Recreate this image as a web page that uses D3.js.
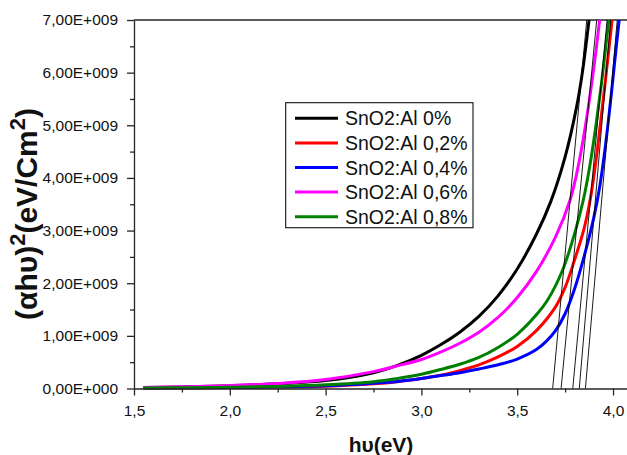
<!DOCTYPE html>
<html>
<head>
<meta charset="utf-8">
<script src="https://cdn.jsdelivr.net/npm/d3@7"></script>
<style>
  html, body { margin: 0; padding: 0; background: #fff; }
  svg { display: block; font-family: "Liberation Sans", Arial, sans-serif; }
</style>
</head>
<body>
<svg id="chart" width="627" height="455"></svg>
<script>
// ---------------- DATA ----------------
const seriesNames = ["SnO2:Al 0%", "SnO2:Al 0,2%", "SnO2:Al 0,4%", "SnO2:Al 0,6%", "SnO2:Al 0,8%"];
const seriesColors = ["#000000", "#ff0000", "#0000ff", "#ff00ff", "#008000"];

// photon energy hv (eV) and (alpha h v)^2 in units of 1e9 eV/cm^2
const al0 = [[1.55,0.02],[1.75,0.03],[2.00,0.05],[2.25,0.09],[2.50,0.15],[2.75,0.30],[2.875,0.44],[3.00,0.63],[3.10,0.83],[3.20,1.07],[3.30,1.37],[3.40,1.76],[3.50,2.27],[3.60,2.93],[3.675,3.55],[3.75,4.40],[3.81,5.35],[3.84,6.00],[3.87,6.85],[3.90,7.80]];
const al02 = [[1.55,0.01],[1.75,0.012],[2.00,0.018],[2.25,0.028],[2.50,0.045],[2.75,0.09],[2.875,0.13],[3.00,0.19],[3.10,0.25],[3.20,0.34],[3.30,0.45],[3.40,0.60],[3.50,0.80],[3.60,1.10],[3.70,1.55],[3.75,1.92],[3.80,2.45],[3.85,3.05],[3.884,3.65],[3.91,4.30],[3.935,5.05],[3.965,6.00],[3.995,7.00],[4.02,7.80]];
const al04 = [[1.55,0.01],[1.75,0.015],[2.00,0.02],[2.25,0.03],[2.50,0.05],[2.75,0.10],[2.875,0.135],[3.00,0.19],[3.10,0.245],[3.20,0.30],[3.30,0.37],[3.40,0.45],[3.50,0.56],[3.60,0.74],[3.65,0.89],[3.70,1.10],[3.75,1.42],[3.80,1.90],[3.85,2.52],[3.90,3.25],[3.93,3.82],[3.96,4.60],[3.99,5.55],[4.01,6.25],[4.035,7.10]];
const al06 = [[1.55,0.02],[1.75,0.035],[2.00,0.055],[2.25,0.095],[2.50,0.17],[2.75,0.32],[2.875,0.43],[3.00,0.55],[3.10,0.69],[3.20,0.86],[3.30,1.07],[3.40,1.35],[3.50,1.73],[3.60,2.22],[3.70,2.88],[3.776,3.58],[3.82,4.25],[3.863,5.15],[3.90,6.10],[3.93,7.00],[3.95,7.70]];
const al08 = [[1.55,0.01],[1.75,0.015],[2.00,0.025],[2.25,0.04],[2.50,0.07],[2.75,0.13],[2.875,0.19],[3.00,0.27],[3.10,0.36],[3.20,0.46],[3.30,0.59],[3.40,0.78],[3.50,1.03],[3.60,1.40],[3.662,1.70],[3.737,2.25],[3.80,2.95],[3.845,3.58],[3.88,4.25],[3.909,4.95],[3.94,5.80],[3.978,7.00],[4.00,7.70]];
const seriesData = [al0, al02, al04, al06, al08];

// linear extrapolation (Tauc) lines: x-intercept and x at top of axis, per series
const tangentX0   = [3.685, 3.824, 3.856, 3.729, 3.790];
const tangentXTop = [3.863, 3.988, 4.022, 3.915, 3.969];

const xTicks = [1.5, 2.0, 2.5, 3.0, 3.5, 4.0];
const xTickLabels = ["1,5", "2,0", "2,5", "3,0", "3,5", "4,0"];
const xMinor = [1.75, 2.25, 2.75, 3.25, 3.75];
const yTicks = [0, 1, 2, 3, 4, 5, 6, 7];
const yTickLabels = ["0,00E+000", "1,00E+009", "2,00E+009", "3,00E+009", "4,00E+009", "5,00E+009", "6,00E+009", "7,00E+009"];
const yMinor = [0.5, 1.5, 2.5, 3.5, 4.5, 5.5, 6.5];

// ---------------- LAYOUT ----------------
const L = 134, R = 627, T = 20, B = 388.5;
const svg = d3.select("#chart");
const x = d3.scaleLinear().domain([1.5, 4.073]).range([L, R]);
const y = d3.scaleLinear().domain([0, 7]).range([B, T]);
const axisColor = "#262626";

svg.append("defs").append("clipPath").attr("id", "plotclip")
  .append("rect").attr("x", L).attr("y", T).attr("width", R - L).attr("height", B - T + 2);

// top frame line
svg.append("line").attr("x1", L).attr("x2", R).attr("y1", T).attr("y2", T)
  .attr("stroke", axisColor).attr("stroke-width", 1.3);

// curves
const line = d3.line().x(d => x(d[0])).y(d => y(d[1])).curve(d3.curveCatmullRom.alpha(0.5));
const plot = svg.append("g").attr("clip-path", "url(#plotclip)");
seriesData.forEach((s, i) => {
  plot.append("path").datum(s).attr("d", line)
    .attr("fill", "none").attr("stroke", seriesColors[i]).attr("stroke-width", 3)
    .attr("stroke-linejoin", "round");
});
// tangent lines
tangentX0.forEach((x0, i) => {
  plot.append("line")
    .attr("x1", x(x0)).attr("y1", y(0))
    .attr("x2", x(tangentXTop[i])).attr("y2", y(7))
    .attr("stroke", "#000").attr("stroke-width", 0.9);
});

// axes
const fontTick = "15.5px";
const xAxis = d3.axisBottom(x).tickValues(xTicks).tickFormat((d, i) => xTickLabels[i])
  .tickSize(7).tickSizeOuter(0).tickPadding(9);
const gx = svg.append("g").attr("transform", `translate(0,${B})`).call(xAxis);
gx.select(".domain").attr("stroke", axisColor).attr("stroke-width", 1.3);
gx.selectAll(".tick line").attr("stroke", axisColor).attr("stroke-width", 1.3);
gx.selectAll(".tick text").attr("fill", "#111").style("font-size", fontTick)
  .style("font-family", "Liberation Sans, Arial, sans-serif");
const gxm = svg.append("g").attr("transform", `translate(0,${B})`)
  .call(d3.axisBottom(x).tickValues(xMinor).tickFormat("").tickSize(4).tickSizeOuter(0));
gxm.select(".domain").remove();
gxm.selectAll(".tick line").attr("stroke", axisColor).attr("stroke-width", 1.3);

const yAxis = d3.axisLeft(y).tickValues(yTicks).tickFormat((d, i) => yTickLabels[i])
  .tickSize(7).tickSizeOuter(0).tickPadding(9);
const gy = svg.append("g").attr("transform", `translate(${L},0)`).call(yAxis);
gy.select(".domain").attr("stroke", axisColor).attr("stroke-width", 1.3);
gy.selectAll(".tick line").attr("stroke", axisColor).attr("stroke-width", 1.3);
gy.selectAll(".tick text").attr("fill", "#111").style("font-size", fontTick)
  .style("font-family", "Liberation Sans, Arial, sans-serif");
const gym = svg.append("g").attr("transform", `translate(${L},0)`)
  .call(d3.axisLeft(y).tickValues(yMinor).tickFormat("").tickSize(4).tickSizeOuter(0));
gym.select(".domain").remove();
gym.selectAll(".tick line").attr("stroke", axisColor).attr("stroke-width", 1.3);

// axis titles
svg.append("text").attr("x", 381).attr("y", 451.5).attr("text-anchor", "middle")
  .style("font-size", "21px").style("font-weight", "bold").attr("fill", "#111")
  .text("h\u03C5(eV)");

const yt = svg.append("text").attr("transform", "translate(37,214) rotate(-90)")
  .attr("text-anchor", "middle").style("font-size", "30px").style("font-weight", "bold")
  .attr("fill", "#111");
yt.append("tspan").text("(\u03B1h\u03C5)");
yt.append("tspan").attr("dy", -12).style("font-size", "22px").text("2");
yt.append("tspan").attr("dy", 12).text("(eV/Cm");
yt.append("tspan").attr("dy", -12).style("font-size", "22px").text("2");
yt.append("tspan").attr("dy", 12).text(")");

// legend
const lg = svg.append("g");
lg.append("rect").attr("x", 285.7).attr("y", 102.7).attr("width", 187.3).attr("height", 125)
  .attr("fill", "#fff").attr("stroke", "#111").attr("stroke-width", 1.1);
seriesNames.forEach((name, i) => {
  const ry = 118.3 + i * 24.6;
  lg.append("line").attr("x1", 295).attr("x2", 338).attr("y1", ry).attr("y2", ry)
    .attr("stroke", seriesColors[i]).attr("stroke-width", 3);
  lg.append("text").attr("x", 345).attr("y", ry).attr("dy", "0.36em")
    .style("font-size", "19.5px").attr("fill", "#111").text(name);
});
</script>
</body>
</html>
